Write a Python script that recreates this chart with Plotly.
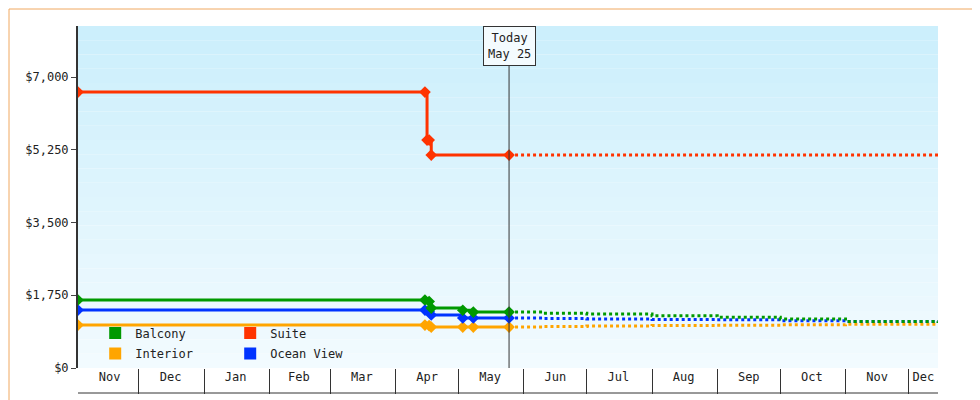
import plotly.graph_objects as go

## DATA
hist_dates = ["2023-11-02", "2024-04-15", "2024-04-17", "2024-04-18", "2024-05-03", "2024-05-08", "2024-05-25"]
suite_dates = ["2023-11-02", "2024-04-15", "2024-04-16", "2024-04-17", "2024-04-18", "2024-05-25"]
suite_hist = [6640, 6640, 5485, 5485, 5124, 5124]
balcony_hist = [1636, 1636, 1600, 1443, 1390, 1347, 1347]
ocean_hist = [1395, 1395, 1360, 1275, 1203, 1203, 1203]
interior_hist = [1034, 1034, 1020, 986, 986, 986, 986]

fc_dates = ["2024-05-25", "2024-06-10", "2024-07-01", "2024-08-01", "2024-09-01", "2024-10-01", "2024-11-01", "2024-12-15"]
suite_fc = [5124, 5124, 5124, 5124, 5124, 5124, 5124, 5124]
balcony_fc = [1347, 1320, 1300, 1260, 1220, 1180, 1120, 1083]
ocean_fc = [1203, 1190, 1180, 1170, 1160, 1140, 1120, 1110]
interior_fc = [986, 1000, 1010, 1020, 1030, 1040, 1050, 1058]

series = ["Balcony", "Suite", "Interior", "Ocean View"]
colors = {"Balcony": "#009900", "Suite": "#ff3300", "Interior": "#ffa500", "Ocean View": "#0033ff"}
hist = {"Balcony": (hist_dates, balcony_hist), "Suite": (suite_dates, suite_hist),
        "Interior": (hist_dates, interior_hist), "Ocean View": (hist_dates, ocean_hist)}
fc = {"Balcony": balcony_fc, "Suite": suite_fc, "Interior": interior_fc, "Ocean View": ocean_fc}

month_mid = ["2023-11-17", "2023-12-16", "2024-01-16", "2024-02-15", "2024-03-16", "2024-04-16",
             "2024-05-16", "2024-06-16", "2024-07-16", "2024-08-16", "2024-09-16", "2024-10-16",
             "2024-11-16", "2024-12-08"]
month_names = ["Nov", "Dec", "Jan", "Feb", "Mar", "Apr", "May", "Jun", "Jul", "Aug", "Sep", "Oct", "Nov", "Dec"]
y_ticks = [0, 1750, 3500, 5250, 7000]
y_labels = ["$0", "$1,750", "$3,500", "$5,250", "$7,000"]
today = "2024-05-25"

FONT = "DejaVu Sans Mono"
fig = go.Figure()

for name in ["Interior", "Ocean View", "Balcony", "Suite"]:
    c = colors[name]
    fig.add_trace(go.Scatter(x=fc_dates, y=fc[name], mode="lines", line=dict(color=c, width=3, dash="dot", shape="hv"),
                             showlegend=False, hoverinfo="skip"))
    xs, ys = hist[name]
    fig.add_trace(go.Scatter(x=xs, y=ys, mode="lines+markers", line=dict(color=c, width=3, shape="hv"),
                             marker=dict(symbol="diamond", size=9, color=c), showlegend=False))

# legend entries (square swatches), two rows
for i, name in enumerate(series):
    fig.add_trace(go.Scatter(x=[None], y=[None], mode="markers", name=name,
                             marker=dict(symbol="square", size=12, color=colors[name]),
                             legend="legend" if i < 2 else "legend2"))

# gradient background
n = 24
shapes = []
for i in range(n):
    t = i / (n - 1)
    r = int(0xcc + (0xf2 - 0xcc) * t)
    g = int(0xef + (0xfb - 0xef) * t)
    b = int(0xfc + (0xff - 0xfc) * t)
    shapes.append(dict(type="rect", xref="paper", yref="paper", x0=0, x1=1,
                       y0=1 - (i + 1) / n, y1=1 - i / n, fillcolor=f"rgb({r},{g},{b})",
                       line=dict(width=0), layer="below"))
# outer orange border
shapes.append(dict(type="rect", xref="paper", yref="paper", x0=-69 / 860, x1=909 / 860,
                   y0=-39 / 342, y1=359 / 342, line=dict(color="#f0a860", width=1)))
# bottom line of month boxes
shapes.append(dict(type="line", xref="paper", yref="paper", x0=0, x1=1, y0=-25 / 342, y1=-25 / 342,
                   line=dict(color="#333", width=1)))
# today line
shapes.append(dict(type="line", xref="x", yref="paper", x0=today, x1=today, y0=0, y1=1,
                   line=dict(color="#333", width=1)))

fig.update_layout(
    width=980, height=400,
    margin=dict(l=70, r=50, t=18, b=40, autoexpand=False),
    paper_bgcolor="white", plot_bgcolor="rgba(0,0,0,0)",
    font=dict(family=FONT, size=12, color="#222"),
    shapes=shapes,
    legend=dict(orientation="h", x=0.02, y=0.145, xanchor="left", yanchor="top", entrywidth=90,
                bgcolor="rgba(0,0,0,0)", font=dict(size=12), itemwidth=30, tracegroupgap=0),
    legend2=dict(orientation="h", x=0.02, y=0.085, xanchor="left", yanchor="top", entrywidth=90,
                 bgcolor="rgba(0,0,0,0)", font=dict(size=12), itemwidth=30, tracegroupgap=0),
    annotations=[dict(x=today, y=1.0, xref="x", yref="paper", yanchor="top", text="Today<br>May 25",
                      showarrow=False, bgcolor="#f4fbfe", bordercolor="#333", borderwidth=1, borderpad=4,
                      font=dict(size=12))],
)
fig.update_xaxes(range=["2023-11-02", "2024-12-15"], showgrid=False, showline=False, automargin=False,
                 tickvals=month_mid, ticktext=month_names, ticks="", ticklen=0,
                 minor=dict(dtick="M1", tick0="2023-12-01", ticks="outside", ticklen=25, tickcolor="#333", showgrid=False),
                 tickfont=dict(size=12))
fig.update_yaxes(range=[0, 8230], tickvals=y_ticks, ticktext=y_labels, automargin=False,
                 showgrid=False, showline=True, linecolor="#333", linewidth=2, ticks="outside", ticklen=5,
                 zeroline=False)

fig.write_html("out.html")
